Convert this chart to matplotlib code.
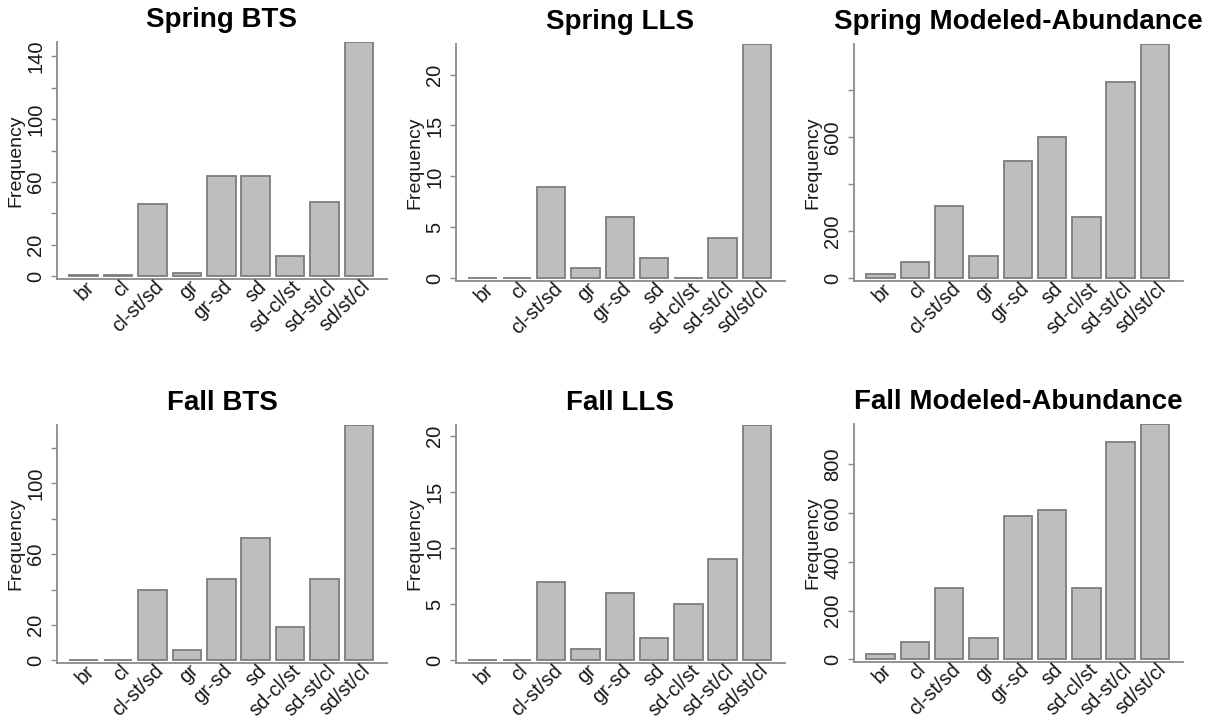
import matplotlib
matplotlib.use("Agg")
import matplotlib.pyplot as plt
import matplotlib.transforms as mtransforms

plt.rcParams['font.family'] = ['Liberation Sans', 'DejaVu Sans']

# Sediment type categories
categories = ['br', 'cl', 'cl-st/sd', 'gr', 'gr-sd', 'sd', 'sd-cl/st', 'sd-st/cl', 'sd/st/cl']

# Frequencies per survey and season
spring_bts = [1, 1, 46, 2, 64, 64, 13, 47, 149]
spring_lls = [0, 0, 9, 1, 6, 2, 0, 4, 23]
spring_model = [20, 71, 305, 95, 497, 600, 261, 833, 995]
fall_bts = [0, 0, 40, 6, 46, 69, 19, 46, 133]
fall_lls = [0, 0, 7, 1, 6, 2, 5, 9, 21]
fall_model = [20, 72, 291, 89, 587, 614, 294, 893, 966]

# y ticks and which of them carry a label
spring_bts_ticks = [0, 20, 40, 60, 80, 100, 120, 140]
spring_bts_labels = ['0', '20', '', '60', '', '100', '', '140']
spring_lls_ticks = [0, 5, 10, 15, 20]
spring_lls_labels = ['0', '5', '10', '15', '20']
spring_model_ticks = [0, 200, 400, 600, 800]
spring_model_labels = ['0', '200', '', '600', '']
fall_bts_ticks = [0, 20, 40, 60, 80, 100, 120]
fall_bts_labels = ['0', '20', '', '60', '', '100', '']
fall_lls_ticks = [0, 5, 10, 15, 20]
fall_lls_labels = ['0', '5', '10', '15', '20']
fall_model_ticks = [0, 200, 400, 600, 800]
fall_model_labels = ['0', '200', '400', '600', '800']

panels = [
    ("Spring BTS", spring_bts, spring_bts_ticks, spring_bts_labels),
    ("Spring LLS", spring_lls, spring_lls_ticks, spring_lls_labels),
    ("Spring Modeled-Abundance", spring_model, spring_model_ticks, spring_model_labels),
    ("Fall BTS", fall_bts, fall_bts_ticks, fall_bts_labels),
    ("Fall LLS", fall_lls, fall_lls_ticks, fall_lls_labels),
    ("Fall Modeled-Abundance", fall_model, fall_model_ticks, fall_model_labels),
]

W, H = 1216, 721
fig = plt.figure(figsize=(W / 100, H / 100), dpi=100)

# axes boxes in pixels: (left, top, right, bottom)
boxes = [
    (57, 42, 387, 279), (456, 44, 785, 281), (854, 44, 1183, 281),
    (57, 425, 387, 663), (456, 425, 785, 663), (854, 424, 1183, 662),
]

axis_col = '#8a8a8a'
edge_col = '#7d7d7d'
bar_col = '#bebebe'
text_col = '#1a1a1a'

for (title, vals, ticks, labels), (l, t, r, b) in zip(panels, boxes):
    ax = fig.add_axes([l / W, 1 - b / H, (r - l) / W, (b - t) / H])
    x = list(range(len(categories)))
    ax.bar(x, vals, width=1 / 1.2, color=bar_col, edgecolor=edge_col, linewidth=1.3, zorder=2)
    top = max(vals)
    hpx = b - t
    ax.set_ylim(-top * 2.7 / (hpx - 2.7), top)
    ax.set_xlim(-0.775, 8.815)

    for s in ('top', 'right'):
        ax.spines[s].set_visible(False)
    for s in ('left', 'bottom'):
        ax.spines[s].set_color(axis_col)
        ax.spines[s].set_linewidth(1.3)

    ax.set_yticks(ticks)
    ax.set_yticklabels(labels, rotation=90, va='center', fontsize=14.5, color=text_col)
    ax.tick_params(axis='y', length=4.5, width=1.0, color=axis_col, pad=4)
    ax.set_xticks([])

    ax.set_ylabel('Frequency', fontsize=14, color=text_col, labelpad=1)
    ax.set_title(title, fontsize=20, fontweight='bold', pad=11)

    offset = mtransforms.ScaledTranslation(8 / 100, -5 / 100, fig.dpi_scale_trans)
    trans = ax.get_xaxis_transform() + offset
    for xi, lab in zip(x, categories):
        ax.text(xi, 0, lab, transform=trans, rotation=45, ha='right', va='center',
                rotation_mode='anchor', fontsize=14.5, color=text_col, clip_on=False)

fig.savefig('out.png', dpi=100, facecolor='white')
